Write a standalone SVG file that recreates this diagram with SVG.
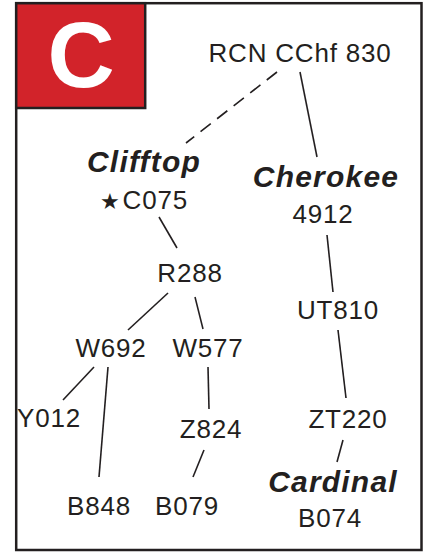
<svg xmlns="http://www.w3.org/2000/svg" width="429" height="552" viewBox="0 0 429 552">
<style>
.t{font-family:"Liberation Sans",Arial,sans-serif;font-size:26px;fill:#231f20;text-anchor:middle;letter-spacing:0.8px}
.b{font-family:"Liberation Sans",Arial,sans-serif;font-size:30px;font-weight:bold;font-style:italic;fill:#231f20;text-anchor:middle;letter-spacing:1.2px}
.e{stroke:#231f20;stroke-width:1.6;fill:none}
</style>
<rect x="0" y="0" width="429" height="552" fill="#fff"/>
<rect x="16.2" y="3.2" width="405.3" height="546.8" fill="none" stroke="#231f20" stroke-width="2.5"/>
<g id="badge">
<rect x="16.2" y="3.2" width="129" height="104.8" fill="#d2232a" stroke="#231f20" stroke-width="2.5"/>
<text x="81" y="87" font-family="Liberation Sans,Arial,sans-serif" font-size="93" font-weight="bold" fill="#fff" text-anchor="middle">C</text>
</g>
<g id="connectors">
<line class="e" x1="277" y1="72" x2="186" y2="143" stroke-dasharray="13,8"/>
<line class="e" x1="300" y1="72" x2="317" y2="157"/>
<line class="e" x1="159" y1="217" x2="177" y2="248"/>
<line class="e" x1="168" y1="293" x2="128" y2="330"/>
<line class="e" x1="195" y1="297" x2="203" y2="329"/>
<line class="e" x1="94" y1="367" x2="63" y2="400"/>
<line class="e" x1="108" y1="367" x2="99" y2="477"/>
<line class="e" x1="208" y1="367" x2="209" y2="409"/>
<line class="e" x1="204" y1="450" x2="193" y2="477"/>
<line class="e" x1="327" y1="235" x2="333" y2="292"/>
<line class="e" x1="338" y1="330" x2="346" y2="398"/>
<line class="e" x1="343" y1="440" x2="337" y2="462"/>
</g>
<g id="RCN"><text class="t" x="300" y="62">RCN CChf 830</text></g>
<g id="Clifftop"><text class="b" x="144" y="172">Clifftop</text><text class="t" x="144" y="209"><tspan font-family="DejaVu Sans,sans-serif" font-size="22">★</tspan><tspan dx="2">C075</tspan></text></g>
<g id="Cherokee"><text class="b" x="326" y="187">Cherokee</text><text class="t" x="323" y="223">4912</text></g>
<g id="R288"><text class="t" x="190" y="282">R288</text></g>
<g id="W692"><text class="t" x="111" y="357">W692</text></g>
<g id="W577"><text class="t" x="208" y="357">W577</text></g>
<g id="Y012"><text class="t" x="49" y="427">Y012</text></g>
<g id="Z824"><text class="t" x="211" y="438">Z824</text></g>
<g id="B848"><text class="t" x="99" y="515">B848</text></g>
<g id="B079"><text class="t" x="187" y="515">B079</text></g>
<g id="UT810"><text class="t" x="338" y="319">UT810</text></g>
<g id="ZT220"><text class="t" x="348" y="428">ZT220</text></g>
<g id="Cardinal"><text class="b" x="333" y="492">Cardinal</text><text class="t" x="330" y="527">B074</text></g>
</svg>
